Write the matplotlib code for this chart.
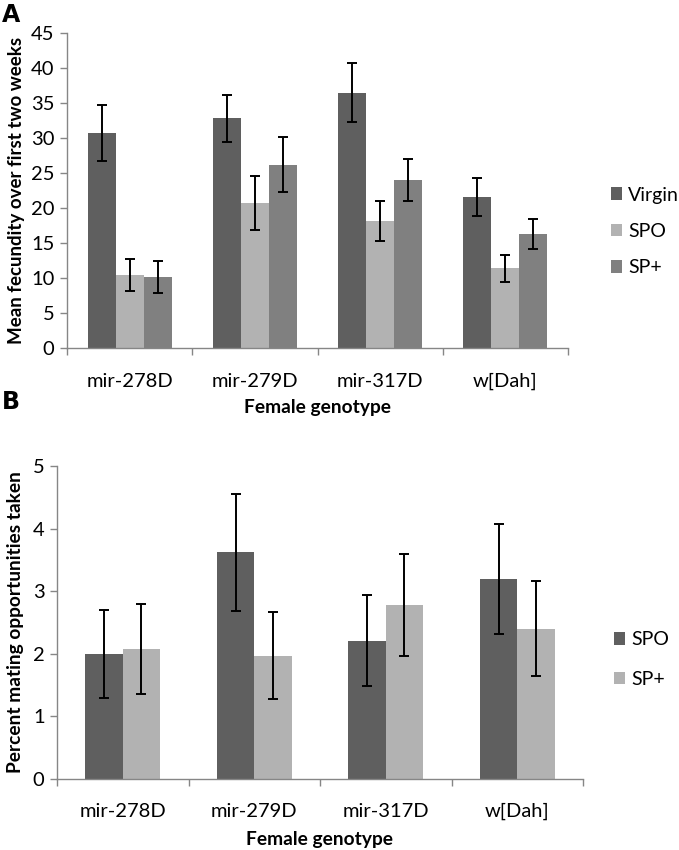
import matplotlib
matplotlib.use("Agg")
import matplotlib.pyplot as plt
import numpy as np

plt.rcParams['font.family'] = ['Lato', 'DejaVu Sans']

genotypes = ["mir-278D", "mir-279D", "mir-317D", "w[Dah]"]

# Panel A
a_series = ["Virgin", "SPO", "SP+"]
a_virgin = [30.7, 32.8, 36.5, 21.6]
a_virgin_err = [3.95, 3.4, 4.15, 2.75]
a_spo = [10.4, 20.7, 18.2, 11.4]
a_spo_err = [2.3, 3.85, 2.85, 1.95]
a_spp = [10.1, 26.2, 24.0, 16.3]
a_spp_err = [2.3, 3.9, 2.95, 2.2]

# Panel B
b_series = ["SPO", "SP+"]
b_spo = [2.0, 3.62, 2.21, 3.19]
b_spo_err = [0.70, 0.93, 0.73, 0.88]
b_spp = [2.08, 1.97, 2.78, 2.40]
b_spp_err = [0.72, 0.70, 0.82, 0.76]

c_dark = "#5f5f5f"
c_light = "#b2b2b2"
c_mid = "#808080"
axis_col = "#868686"

fig = plt.figure(figsize=(6.79, 8.5), dpi=100)

def style_axis(ax, ymax, ystep, n, xpad):
    ax.set_xlim(0, n)
    ax.set_ylim(0, ymax)
    ax.set_yticks(np.arange(0, ymax + 0.001, ystep))
    ax.set_xticks(np.arange(0, n + 1))
    ax.set_xticklabels([])
    ax.set_xticks(np.arange(n) + 0.5, minor=True)
    ax.set_xticklabels(genotypes, minor=True)
    ax.tick_params(axis='x', which='minor', length=0, pad=xpad, labelsize=14.5)
    ax.tick_params(axis='x', which='major', length=5, width=1, color=axis_col, direction='out')
    ax.tick_params(axis='y', length=5, width=1, color=axis_col, labelsize=14.5, pad=4)
    for s in ['top', 'right']:
        ax.spines[s].set_visible(False)
    for s in ['left', 'bottom']:
        ax.spines[s].set_color(axis_col)
        ax.spines[s].set_linewidth(1)

err_kw = dict(ecolor='black', capsize=3.8, elinewidth=1.4, capthick=1.4)

# ---- Panel A ----
axA = fig.add_axes([67/679, 1 - 348/850, 501/679, 315/850])
n = len(genotypes)
x = np.arange(n) + 0.5
w = 0.2236
data_a = [(a_virgin, a_virgin_err, c_dark), (a_spo, a_spo_err, c_light), (a_spp, a_spp_err, c_mid)]
for i, (vals, errs, col) in enumerate(data_a):
    axA.bar(x + (i - 1) * w, vals, w, yerr=errs, color=col, label=a_series[i],
            error_kw=err_kw, zorder=2)
style_axis(axA, 45, 5, n, 18)
axA.set_ylabel("Mean fecundity over first two weeks", fontsize=13.5, fontweight='bold', labelpad=4)
axA.set_xlabel("Female genotype", fontsize=13.8, fontweight='bold', labelpad=6)
axA.legend(loc='center left', bbox_to_anchor=(1.05, 0.37), frameon=False, fontsize=14,
           handlelength=0.6, handleheight=0.6, handletextpad=0.3, labelspacing=1.0)
fig.text(0.003, 1 - 15/850, "A", fontsize=17, fontweight='bold', va='center', ha='left',
         family='DejaVu Sans')

# ---- Panel B ----
axB = fig.add_axes([57/679, 1 - 779/850, 526/679, 313/850])
wb = 0.285
data_b = [(b_spo, b_spo_err, c_dark), (b_spp, b_spp_err, c_light)]
for i, (vals, errs, col) in enumerate(data_b):
    axB.bar(x + (i - 0.5) * wb, vals, wb, yerr=errs, color=col, label=b_series[i],
            error_kw=err_kw, zorder=2)
style_axis(axB, 5, 1, n, 17)
axB.set_ylabel("Percent mating opportunities taken", fontsize=13.8, fontweight='bold', labelpad=6)
axB.set_xlabel("Female genotype", fontsize=13.8, fontweight='bold', labelpad=8)
axB.legend(loc='center left', bbox_to_anchor=(1.025, 0.382), frameon=False, fontsize=14,
           handlelength=0.6, handleheight=0.6, handletextpad=0.3, labelspacing=1.15)
fig.text(0.003, 1 - 402/850, "B", fontsize=17, fontweight='bold', va='center', ha='left',
         family='DejaVu Sans')

fig.savefig("out.png", dpi=100)
